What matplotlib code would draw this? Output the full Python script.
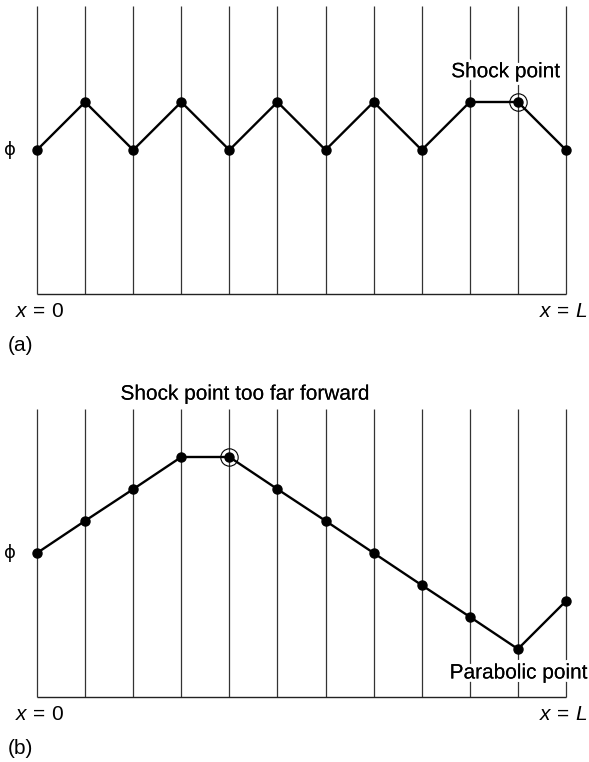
import matplotlib
matplotlib.use("Agg")
import matplotlib.pyplot as plt
import matplotlib.patheffects as pe

plt.rcParams['font.family'] = ['Liberation Sans', 'DejaVu Sans']
plt.rcParams['mathtext.fontset'] = 'custom'
plt.rcParams['mathtext.it'] = 'Liberation Sans:italic'
plt.rcParams['mathtext.rm'] = 'Liberation Sans'

# Data (grid units: x = station index, phi in units of grid spacing)
stations = list(range(12))
phi_a = [3, 4, 3, 4, 3, 4, 3, 4, 3, 4, 4, 3]
phi_b = [3, 3.67, 4.33, 5, 5, 4.33, 3.67, 3, 2.33, 1.67, 1, 2]
shock_a = 10
shock_b = 4
line_top = 6

W, H = 589, 762
fig = plt.figure(figsize=(W / 100, H / 100), dpi=100)

halo = [pe.withStroke(linewidth=5, foreground='white')]
fs = 15

def panel(top_px, bot_px, phi, shock, label, annot, annot_xy, annot_ha):
    left_px, right_px = 37, 566
    ax = fig.add_axes([left_px / W, 1 - bot_px / H, (right_px - left_px) / W,
                       (bot_px - top_px) / H])
    ax.set_xlim(0, 11)
    ax.set_ylim(0, line_top)
    ax.axis('off')
    ax.vlines(stations, 0, line_top, color='#333333', lw=0.9, zorder=1, clip_on=False)
    ax.hlines(0, 0, 11, color='#222222', lw=1.0, zorder=1, clip_on=False)
    ax.plot(stations, phi, color='black', lw=1.7, marker='o', ms=6.5,
            zorder=3, clip_on=False)
    ax.plot([shock], [phi[shock]], marker='o', ms=12.5, mfc='none', mec='black',
            mew=0.8, zorder=4, clip_on=False)
    ax.text(-0.56, 3, 'ϕ', family=['DejaVu Sans'], fontsize=13, ha='center',
            va='center', clip_on=False)
    ax.text(-0.45, -0.37, r'$x\,=\,0$', fontsize=fs, ha='left', va='center')
    ax.text(11.45, -0.37, r'$x\,=\,L$', fontsize=fs, ha='right', va='center')
    ax.text(-0.6, -1.07, label, fontsize=fs, ha='left', va='center')
    for txt, (tx, ty), ha in zip(annot, annot_xy, annot_ha):
        t = ax.text(tx, ty, txt, fontsize=fs, ha=ha, va='center', zorder=2,
                    clip_on=False)
        t.set_path_effects(halo + [pe.Normal()])
    return ax

panel(6, 294, phi_a, shock_a, '(a)', ['Shock point'], [(9.75, 4.63)], ['center'])
panel(409, 697, phi_b, shock_b, '(b)',
      ['Shock point too far forward', 'Parabolic point'],
      [(4.33, 6.31), (11.45, 0.5)], ['center', 'right'])

fig.savefig('out.png', dpi=100)
